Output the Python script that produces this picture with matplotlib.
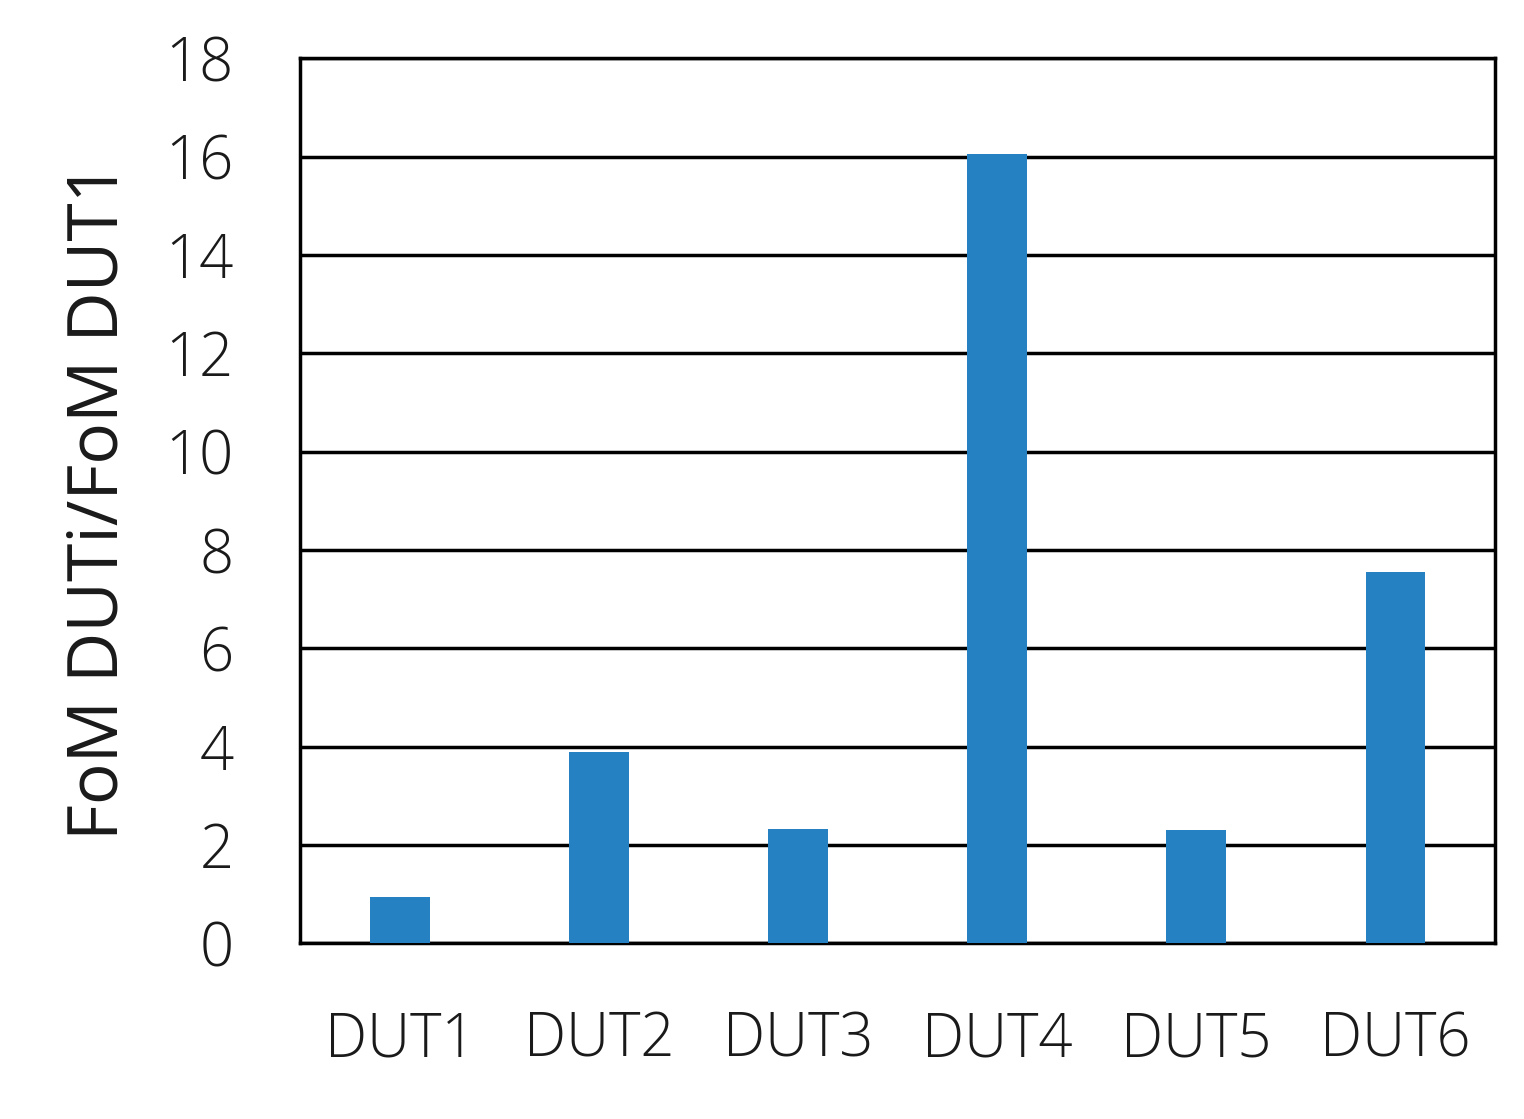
import matplotlib
matplotlib.use("Agg")
import matplotlib.pyplot as plt

categories = ["DUT1", "DUT2", "DUT3", "DUT4", "DUT5", "DUT6"]
values = [0.95, 3.9, 2.32, 16.05, 2.3, 7.55]
yticks = [0, 2, 4, 6, 8, 10, 12, 14, 16, 18]

plt.rcParams['font.family'] = ['Open Sans', 'DejaVu Sans']
plt.rcParams['font.weight'] = 'light'

fig = plt.figure(figsize=(15.24, 11.19), dpi=100)
ax = fig.add_axes([0.197, 0.157, 0.784, 0.791])
x = range(len(categories))
ax.bar(x, values, width=0.3, color="#2681C2", zorder=3)
ax.set_xlim(-0.5, 5.5)
ax.set_ylim(0, 18)
ax.set_yticks(yticks)
ax.set_xticks(list(x))
ax.set_xticklabels(categories)
ax.grid(axis='y', color='black', linewidth=2.5, zorder=1)
for s in ax.spines.values():
    s.set_linewidth(2.5)
    s.set_color('black')
ax.tick_params(length=0, labelsize=43, labelcolor='#1a1a1a')
ax.tick_params(axis='y', pad=48)
ax.tick_params(axis='x', pad=48)
ax.set_ylabel("FoM DUTi/FoM DUT1", fontsize=50, labelpad=22, color='#1a1a1a',
              fontweight='normal')
fig.savefig("out.png", dpi=100, facecolor="white")
